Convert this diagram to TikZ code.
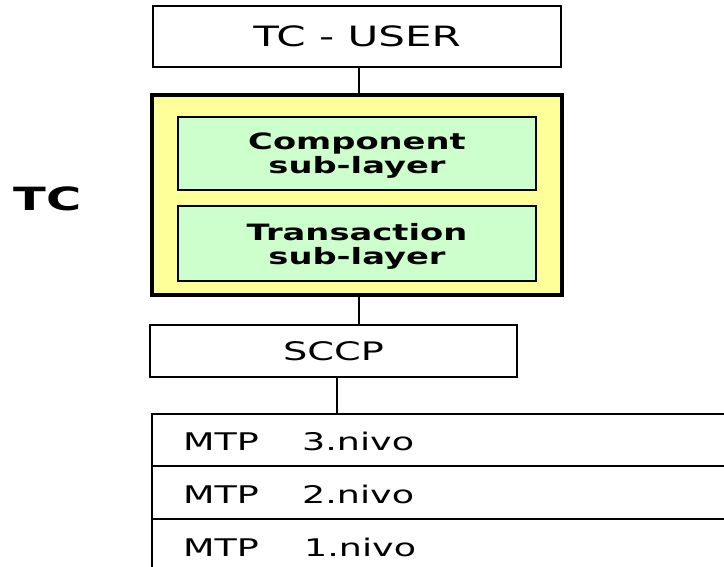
\documentclass[tikz,border=0pt]{standalone}
\usepackage{fontspec}
\setmainfont{DejaVu Sans}[FakeStretch=1.5]
\definecolor{tcyellow}{HTML}{FFFF99}
\definecolor{subgreen}{HTML}{CCFFCC}
\begin{document}
\begin{tikzpicture}[x=1pt,y=-1pt,
  box/.style={draw=black, line width=2.3pt, fill=white, inner sep=0pt},
  tcbox/.style={draw=black, line width=3.3pt, fill=tcyellow, inner sep=0pt},
  subbox/.style={draw=black, line width=2.5pt, fill=subgreen, inner sep=0pt},
  subtext/.style={align=center, inner sep=0pt, font=\bfseries\fontsize{22.5}{24}\selectfont},
  rowbox/.style={draw=black, line width=2.3pt, fill=white, inner sep=0pt},
  rowtext/.style={anchor=base west, inner sep=0pt, font=\fontsize{24.3}{28}\selectfont},
  conn/.style={draw=black, line width=2.3pt}]
\useasboundingbox (0,0) rectangle (724,566);
\clip (0,0) rectangle (724,566);

% top user box
\node[box, minimum width=408pt, minimum height=61pt, font=\fontsize{28}{30}\selectfont] (user) at (357,36.5) {TC - USER};
% TC block
\node[tcbox, minimum width=410pt, minimum height=200pt] (tc) at (357,195) {};
\node[subbox, minimum width=358pt, minimum height=73pt] (comp) at (357,153.5) {};
\node[subtext] (comptext) at (357,156) {Component\\sub-layer};
\node[subbox, minimum width=358pt, minimum height=75pt] (trans) at (357,243.5) {};
\node[subtext] (transtext) at (357,246) {Transaction\\sub-layer};
\node[anchor=base, inner sep=0pt, font=\bfseries\fontsize{32}{34}\selectfont] (tclabel) at (47.5,210) {TC};
% SCCP
\node[box, minimum width=367pt, minimum height=52pt, font=\fontsize{25.5}{28}\selectfont] (sccp) at (333.5,351) {SCCP};
% MTP rows (extend beyond picture edges)
\node[rowbox, minimum width=648pt, minimum height=52pt] (m3) at (476,440) {};
\node[rowbox, minimum width=648pt, minimum height=53pt] (m2) at (476,492.5) {};
\node[rowbox, minimum width=648pt, minimum height=101pt] (m1) at (476,569.5) {};
\node[rowtext] (m3a) at (183,450) {MTP};
\node[rowtext] (m3b) at (302,450) {3.nivo};
\node[rowtext] (m2a) at (183,503) {MTP};
\node[rowtext] (m2b) at (302,503) {2.nivo};
\node[rowtext] (m1a) at (183,556) {MTP};
\node[rowtext] (m1b) at (304,556) {1.nivo};

% connectors
\draw[conn] ([xshift=2pt]user.south) -- ([xshift=2pt]user.south |- tc.north);
\draw[conn] ([xshift=2pt]tc.south) -- ([xshift=2pt]tc.south |- sccp.north);
\draw[conn] ([xshift=3.5pt]sccp.south) -- ([xshift=3.5pt]sccp.south |- m3.north);
\end{tikzpicture}
\end{document}
